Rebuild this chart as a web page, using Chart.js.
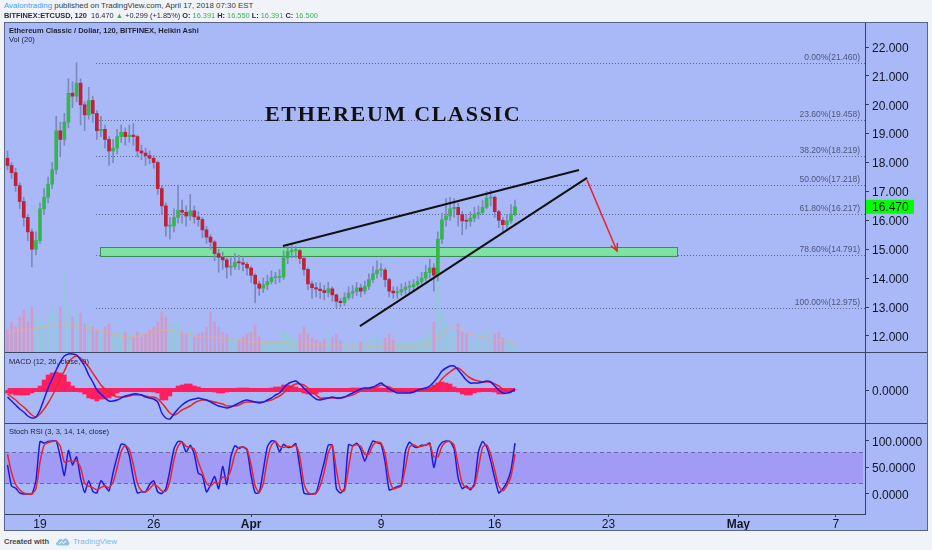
<!DOCTYPE html>
<html><head><meta charset="utf-8">
<script src="https://cdn.jsdelivr.net/npm/chart.js@4.4.1/dist/chart.umd.min.js"></script>
<style>
html,body{margin:0;padding:0}
body{width:932px;height:550px;background:#f0f3f8;position:relative;overflow:hidden;font-family:"Liberation Sans",Arial,sans-serif;color:#2a2e39}
.t{position:absolute;white-space:nowrap;line-height:1;z-index:5}
#frame{position:absolute;left:4px;top:22px;width:922px;height:507px;background:#a9b9f8;border:1px solid #56658a}
#frame canvas{position:absolute;left:0}
.sep{position:absolute;left:0;width:922px;height:1px;background:#3c4665;z-index:3}
.g{color:#39b54a;font-weight:normal}
</style></head><body>
<div class="t" style="left:4px;top:2px;font-size:7.9px;color:#3a3a3a"><span style="color:#4a9fe8">Avalontrading</span> published on TradingView.com, April 17, 2018 07:30 EST</div>
<div class="t" style="left:4px;top:11.5px;font-size:7.4px;font-weight:bold;color:#2a2e39">BITFINEX:ETCUSD, 120&nbsp; <span style="font-weight:normal">16.470 <span class="g">▲</span> +0.299 (+1.85%)</span> O: <span class="g">16.391</span> H: <span class="g">16.550</span> L: <span class="g">16.391</span> C: <span class="g">16.500</span></div>

<div id="frame">
  <canvas id="cMain" width="922" height="329" style="top:0"></canvas>
  <canvas id="cMacd" width="922" height="71" style="top:329px"></canvas>
  <canvas id="cStoch" width="922" height="107" style="top:400px"></canvas>
  <div class="sep" style="top:329px"></div>
  <div class="sep" style="top:400px"></div>
</div>

<div class="t" style="left:9px;top:27.3px;font-size:7.5px;font-weight:bold;color:#1e2230">Ethereum Classic / Dollar, 120, BITFINEX, Heikin Ashi</div>
<div class="t" style="left:9px;top:36.3px;font-size:7.5px;color:#1e2230">Vol (20)</div>
<div class="t" style="left:9px;top:357.8px;font-size:7.5px;color:#1e2230">MACD (12, 26, close, 9)</div>
<div class="t" style="left:9px;top:428.3px;font-size:7.5px;color:#1e2230">Stoch RSI (3, 3, 14, 14, close)</div>
<div class="t" style="left:265px;top:103px;font-size:22px;line-height:22px;letter-spacing:1.7px;font-family:'Liberation Serif','Times New Roman',serif;font-weight:bold;color:#111">ETHEREUM CLASSIC</div>

<div class="t" style="left:4px;top:537.5px;font-size:7.5px;font-weight:bold;color:#4a4a4a">Created with</div>
<svg style="position:absolute;left:55px;top:537px" width="15" height="9" viewBox="0 0 15 9"><path d="M3 8.5 C0.5 8.5 0.3 5 2.8 4.8 C3 2 6.5 1.2 7.8 3.2 C9 0.5 13 1 13 4.2 C15 4.6 14.8 8.5 12.3 8.5 Z" fill="#8cc4ec"/><path d="M4 7 L6.5 4.8 L8.5 6.3 L11 4" stroke="#fff" stroke-width="1" fill="none"/></svg>
<div class="t" style="left:73px;top:537.5px;font-size:8px;color:#7ab8e8">TradingView</div>

<script>
// ---------- data (2-hour Heikin Ashi chart, read at 6-hour steps) ----------
const firstDay = -2;          // days relative to Mar 19, first candle
const dayStep = 0.25;         // 6 hours per candle
const firstOpen = 18.15;
const closes = [
17.9,17.65,17.2,16.65,16.1,15.6,15.0,15.3,16.4,16.8,
17.25,17.75,19.1,18.8,19.4,20.4,20.3,20.75,20.0,19.65,
20.15,19.7,19.1,19.15,18.8,18.4,18.5,18.9,19.05,18.9,
18.95,18.9,18.4,18.33,18.24,18.15,18.0,17.1,16.5,15.8,
15.8,16.1,16.35,16.28,16.15,16.33,16.12,16.03,15.67,15.42,
15.25,14.85,14.72,14.63,14.38,14.4,14.55,14.53,14.48,14.35,
14.1,13.8,13.65,13.77,13.88,14.02,14.02,14.04,14.7,14.92,
14.95,14.95,14.68,14.3,13.8,13.67,13.62,13.57,13.5,13.63,
13.42,13.2,13.15,13.33,13.48,13.54,13.66,13.55,13.72,13.95,
14.15,14.28,14.28,13.95,13.55,13.49,13.52,13.6,13.69,13.7,
13.78,13.88,14.0,14.2,14.35,14.1,15.35,16.02,16.15,16.4,
16.45,16.2,15.98,15.97,16.08,16.22,16.27,16.45,16.77,16.8,
16.3,16.0,15.85,15.98,16.22,16.47];
const highs = [
18.4,18.0,17.8,17.3,16.8,16.2,15.7,15.6,16.6,17.1,
17.5,18.0,19.6,19.4,19.7,20.9,20.8,21.46,20.9,20.1,
20.6,20.3,19.8,19.6,19.3,18.9,18.8,19.15,19.3,19.2,
19.3,19.35,18.95,18.6,18.5,18.4,18.25,18.05,17.2,16.6,
16.1,16.4,17.22,16.7,16.5,16.9,16.5,16.3,16.1,15.8,
15.5,15.3,15.0,14.9,14.7,14.7,14.85,14.8,14.7,14.55,
14.4,14.15,13.9,14.0,14.1,14.25,14.2,14.3,14.95,15.15,
15.15,15.1,15.0,14.75,14.35,13.9,13.85,13.85,13.75,13.85,
13.7,13.45,13.3,13.5,13.7,13.75,13.85,13.8,13.9,14.15,
14.4,14.6,14.5,14.35,14.0,13.7,13.7,13.8,13.85,13.9,
13.95,14.05,14.2,14.45,14.65,14.5,15.6,16.25,16.75,16.8,
16.75,16.6,16.3,16.2,16.3,16.45,16.5,16.7,17.0,17.05,
16.85,16.35,16.1,16.2,16.55,16.7];
const lows = [
17.75,17.45,17.0,16.4,15.8,15.3,14.39,14.8,15.2,16.2,
16.6,17.1,17.6,18.2,18.6,19.2,19.9,20.1,19.3,19.1,
19.5,19.4,18.8,18.9,18.5,17.9,18.0,18.3,18.7,18.6,
18.7,18.6,18.2,18.1,17.9,17.95,17.8,16.9,16.2,15.45,
15.35,15.6,15.9,15.9,15.8,16.0,15.9,15.8,15.4,15.2,
15.0,14.6,14.2,14.3,14.0,14.1,14.3,14.3,14.25,14.1,
13.85,13.14,13.4,13.5,13.6,13.8,13.8,13.85,13.95,14.5,
14.7,14.7,14.5,14.1,13.6,13.3,13.35,13.3,13.25,13.35,
13.2,12.98,13.0,13.05,13.25,13.3,13.4,13.35,13.45,13.6,
13.85,14.0,14.05,13.7,13.35,13.3,13.3,13.4,13.45,13.5,
13.55,13.65,13.75,13.9,14.0,13.55,13.9,15.2,15.8,16.0,
16.1,15.8,15.5,15.7,15.8,15.95,16.05,16.2,16.4,16.5,
16.1,15.75,15.6,15.7,15.9,16.15];
const volumes = [
22,30,25,35,42,30,45,38,33,28,
35,47,40,45,82,50,35,40,39,28,
30,25,22,20,25,28,20,18,22,20,
18,15,20,15,18,22,25,30,40,35,
28,25,30,20,18,22,15,18,20,25,
40,30,25,20,18,15,14,12,15,18,
20,27,15,12,10,12,10,12,22,18,
15,12,18,25,18,14,12,10,12,20,
15,18,12,10,8,10,9,10,12,14,
15,18,12,14,18,12,10,9,10,9,
10,12,14,15,18,30,107,39,30,25,
22,28,20,18,15,14,18,20,23,20,
18,20,14,12,10,8];
const volumeMA = [
20,20,21,21,22,22,23,23,24,25,
26,27,28,28,28,28,27,26,25,24,
23,23,22,21,20,19,18,17,16,15,
15,15,16,17,18,19,20,21,22,22,
22,21,20,19,18,17,16,15,15,15,
15,15,14,14,13,13,12,12,11,11,
10,10,10,10,9,9,9,9,9,9,
8,8,8,8,8,8,8,7,7,7,
7,7,7,6,6,6,6,6,6,6,
6,6,6,6,6,6,6,6,6,6,
6,6,7,7,8,12,15,18,21,24,
25,24,22,20,18,17,16,15,14,13,
12,12,11,11,10,10];
const macdLine = [
-7,-11,-15,-19,-22,-26,-28,-27,-20,-9,
2,11,20,28,34,36,36,35,30,24,
15,8,0,-4,-8,-11,-11,-10,-8,-6,
-5,-4,-4,-5,-7,-8,-9,-12,-23,-28,
-29,-24,-19,-15,-12,-10,-9,-8,-9,-10,
-12,-14,-16,-17,-18,-17,-15,-13,-11,-10,
-11,-12,-13,-12,-10,-8,-5,-3,2,6,
8,9,6,2,-2,-6,-9,-10,-9,-8,
-7,-8,-8,-7,-5,-3,-1,1,2,2,
3,5,7,4,1,-1,-3,-3,-3,-3,
-2,0,1,2,4,8,13,19,22,24,
24,20,15,10,7,7,7,8,9,8,
4,0,-3,-3,-2,1];
const signalLine = [
-4,-7,-10,-14,-17,-21,-25,-27,-24,-19,
-13,-6,2,11,19,28,32,34,32,28,
23,17,11,5,1,-3,-5,-7,-7,-7,
-6,-5,-5,-5,-6,-7,-7,-9,-13,-18,
-23,-25,-23,-20,-18,-16,-13,-11,-10,-10,
-11,-12,-13,-14,-16,-16,-16,-15,-13,-12,
-12,-12,-12,-12,-11,-10,-8,-6,-3,1,
4,6,6,5,2,-2,-5,-8,-8,-8,
-8,-8,-8,-7,-6,-5,-3,-1,0,1,
2,3,5,4,3,1,-1,-1,-2,-2,
-2,-1,0,0,1,3,6,11,15,18,
21,22,19,15,12,10,9,8,8,8,
6,4,1,-1,-1,1];
const stochK = [
55,15,11,2,0,0,0,25,99,96,
99,100,100,70,35,82,55,70,30,3,
25,5,2,25,15,6,40,70,94,92,
72,30,2,4,4,18,25,4,1,10,
45,85,99,98,79,92,75,39,35,4,
17,33,10,52,18,70,91,86,89,83,
35,2,3,45,89,100,99,80,94,88,
89,95,50,2,0,0,2,30,60,92,
92,10,2,10,93,91,96,84,62,83,
100,97,94,60,8,10,14,17,80,98,
90,88,92,92,96,50,85,97,100,99,
85,30,10,15,8,20,80,99,89,63,
30,2,10,22,45,96];
const stochD = [
75,40,18,8,2,0,0,10,60,92,
97,99,100,90,60,62,62,62,50,20,
15,12,8,12,15,12,22,50,80,92,
84,55,20,6,4,10,18,14,6,5,
25,65,90,98,90,88,85,60,40,20,
15,22,20,32,30,45,75,88,88,85,
55,15,3,20,65,92,99,90,88,90,
89,92,70,20,3,0,1,15,42,78,
92,45,8,6,50,90,93,90,75,75,
92,98,96,75,30,10,12,15,50,88,
93,89,90,92,94,70,70,90,98,99,
92,55,20,12,11,15,50,88,93,75,
45,15,6,16,33,75];

const priceTicks = [12,13,14,15,16,17,18,19,20,21,22];
const macdTicks = [0];
const stochTicks = [0,50,100];
const dateTickDays = [0,7,13,21,28,35,43,49];
const dateTickLabels = ['19','26','Apr','9','16','23','May','7'];
const monthLabels = ['Apr','May'];
const fibLevels = [21.46,19.458,18.219,17.218,16.217,14.791,12.975];
const fibNames = ['0.00%','23.60%','38.20%','50.00%','61.80%','78.60%','100.00%'];
const fibStartDay = 3.45;
const zone = {fromDay:3.69, toDay:39.22, low:14.77, high:15.08};
const upperTrend = [{x:14.96,y:15.11},{x:33.19,y:17.74}];
const lowerTrend = [{x:19.70,y:12.34},{x:33.68,y:17.47}];
const arrowLine = [{x:33.68,y:17.40},{x:35.53,y:14.94}];
const lastPrice = 16.470;
const viewDays = {min:-2.155, max:50.80};
const priceRange = {min:11.443, max:22.831};
const macdRange = {min:-33, max:38};
const stochRange = {min:-37.74, max:133.96};
const stochBand = {low:20, high:80};

// ---------- derived ----------
const days = closes.map((_, i) => firstDay + i * dayStep);
const opens = closes.map((c, i) => i === 0 ? firstOpen : closes[i - 1]);
const isUp = closes.map((c, i) => c >= opens[i]);
const histogram = macdLine.map((m, i) => m - signalLine[i]);

const AXIS = '#34405e', TXT = '#131722';
Chart.defaults.font.family = '"Liberation Sans", Arial, sans-serif';
Chart.defaults.color = TXT;

function yAxis(range, ticks, fmt) {
  return {
    position: 'right', min: range.min, max: range.max,
    afterBuildTicks: s => { s.ticks = ticks.map(v => ({value: v})); },
    afterFit: s => { s.width = 62; s.paddingTop = 0; s.paddingBottom = 0; },
    ticks: {callback: v => fmt(v), padding: 3, labelOffset: 1.5, font: {size: 12}, color: TXT},
    grid: {drawOnChartArea: false, drawTicks: true, tickLength: 4, color: AXIS},
    border: {display: true, color: AXIS}
  };
}
const hiddenX = {type: 'linear', display: false, min: viewDays.min, max: viewDays.max, offset: false, grid: {offset: false}};
const common = {
  responsive: false, animation: false, events: [],
  layout: {padding: 0, autoPadding: false},
  datasets: {bar: {grouped: false, borderWidth: 0}},
  plugins: {legend: {display: false}, tooltip: {enabled: false}}
};

const fibPlugin = {
  id: 'fib',
  beforeDatasetsDraw(chart) {
    const {ctx, chartArea: a, scales: {x, y}} = chart;
    ctx.save();
    ctx.strokeStyle = 'rgba(80,88,125,0.85)'; ctx.lineWidth = 1; ctx.setLineDash([1, 2]);
    ctx.fillStyle = '#4f5779'; ctx.font = '8.5px "Liberation Sans", Arial';
    ctx.textAlign = 'right'; ctx.textBaseline = 'bottom';
    fibLevels.forEach((v, i) => {
      const py = Math.round(y.getPixelForValue(v)) + 0.5;
      ctx.beginPath(); ctx.moveTo(x.getPixelForValue(fibStartDay), py); ctx.lineTo(a.right, py); ctx.stroke();
      ctx.fillText(fibNames[i] + '(' + v.toFixed(3) + ')', a.right - 5, py - 1.5);
    });
    ctx.setLineDash([]);
    const x0 = x.getPixelForValue(zone.fromDay), x1 = x.getPixelForValue(zone.toDay);
    const y0 = y.getPixelForValue(zone.high), y1 = y.getPixelForValue(zone.low);
    ctx.fillStyle = '#7fe2a3'; ctx.fillRect(x0, y0, x1 - x0, y1 - y0);
    ctx.strokeStyle = '#3d8a5e'; ctx.strokeRect(Math.round(x0) + 0.5, Math.round(y0) + 0.5, Math.round(x1 - x0), Math.round(y1 - y0));
    ctx.restore();
  },
  afterDatasetsDraw(chart) {
    const {ctx, scales: {x, y}} = chart;
    const p0 = {x: x.getPixelForValue(arrowLine[0].x), y: y.getPixelForValue(arrowLine[0].y)};
    const p1 = {x: x.getPixelForValue(arrowLine[1].x), y: y.getPixelForValue(arrowLine[1].y)};
    const ang = Math.atan2(p1.y - p0.y, p1.x - p0.x);
    ctx.save(); ctx.strokeStyle = '#e3262e'; ctx.lineWidth = 1.5;
    ctx.beginPath();
    ctx.moveTo(p1.x - 8 * Math.cos(ang - 0.45), p1.y - 8 * Math.sin(ang - 0.45));
    ctx.lineTo(p1.x, p1.y);
    ctx.lineTo(p1.x - 8 * Math.cos(ang + 0.45), p1.y - 8 * Math.sin(ang + 0.45));
    ctx.stroke(); ctx.restore();
  },
  afterDraw(chart) {
    const {ctx, chartArea: a, scales: {y}} = chart;
    const py = y.getPixelForValue(lastPrice);
    ctx.save();
    ctx.fillStyle = '#00ff00'; ctx.fillRect(a.right + 1, py - 7, 48, 14);
    ctx.fillStyle = TXT; ctx.font = '12px "Liberation Sans", Arial'; ctx.textBaseline = 'middle';
    ctx.fillText(lastPrice.toFixed(3), a.right + 7, py + 1);
    ctx.restore();
  }
};

new Chart(document.getElementById('cMain'), {
  type: 'bar',
  data: {datasets: [
    {type: 'line', data: upperTrend, borderColor: '#111', borderWidth: 2, pointRadius: 0, order: 1},
    {type: 'line', data: lowerTrend, borderColor: '#111', borderWidth: 2, pointRadius: 0, order: 1},
    {type: 'line', data: arrowLine, borderColor: '#e3262e', borderWidth: 1.5, pointRadius: 0, order: 1},
    {data: days.map((d, i) => ({x: d, y: [opens[i], closes[i]]})), backgroundColor: isUp.map(u => u ? '#35b54b' : '#bd2238'), barThickness: 3, minBarLength: 1, order: 3},
    {data: days.map((d, i) => ({x: d, y: [lows[i], highs[i]]})), backgroundColor: '#7d89bd', barThickness: 1, order: 4},
    {type: 'line', data: days.map((d, i) => ({x: d, y: volumeMA[i]})), yAxisID: 'yv', borderColor: 'rgba(245,170,120,0.7)', borderWidth: 1, pointRadius: 0, tension: 0.3, order: 5},
    {data: days.map((d, i) => ({x: d, y: volumes[i]})), yAxisID: 'yv', backgroundColor: isUp.map(u => u ? 'rgba(125,215,190,0.5)' : 'rgba(240,130,155,0.5)'), barThickness: 2, order: 6}
  ]},
  options: Object.assign({}, common, {
    scales: {
      x: hiddenX,
      y: yAxis(priceRange, priceTicks, v => v.toFixed(3)),
      yv: {display: false, min: 0, max: 329}
    }
  }),
  plugins: [fibPlugin]
});

const macdPlugin = {
  id: 'macdZero',
  beforeDatasetsDraw(chart) {
    const {ctx, scales: {x, y}} = chart;
    const py = y.getPixelForValue(0);
    ctx.save(); ctx.fillStyle = '#ff1f5f';
    const x0 = x.getPixelForValue(days[0]), x1 = x.getPixelForValue(days[days.length - 1]);
    ctx.fillRect(x0, py - 2, x1 - x0, 4); ctx.restore();
  }
};
new Chart(document.getElementById('cMacd'), {
  type: 'bar',
  data: {datasets: [
    {type: 'line', data: days.map((d, i) => ({x: d, y: macdLine[i]})), borderColor: '#1a1ae6', borderWidth: 1.5, pointRadius: 0, tension: 0.25, order: 1},
    {type: 'line', data: days.map((d, i) => ({x: d, y: signalLine[i]})), borderColor: '#ec2424', borderWidth: 1.5, pointRadius: 0, tension: 0.25, order: 2},
    {data: days.map((d, i) => ({x: d, y: histogram[i]})), backgroundColor: '#ff1f5f', barThickness: 4, order: 3}
  ]},
  options: Object.assign({}, common, {
    scales: {x: hiddenX, y: yAxis(macdRange, macdTicks, v => v.toFixed(4))}
  }),
  plugins: [macdPlugin]
});

const stochPlugin = {
  id: 'stochBand',
  beforeDatasetsDraw(chart) {
    const {ctx, chartArea: a, scales: {y}} = chart;
    const yh = Math.round(y.getPixelForValue(stochBand.high)) + 0.5, yl = Math.round(y.getPixelForValue(stochBand.low)) + 0.5;
    ctx.save();
    ctx.fillStyle = '#a29bf6'; ctx.fillRect(a.left, yh, a.right - a.left - 2, yl - yh);
    ctx.strokeStyle = '#6c6aa6'; ctx.lineWidth = 1; ctx.setLineDash([4, 3]);
    [yh, yl].forEach(py => { ctx.beginPath(); ctx.moveTo(a.left, py); ctx.lineTo(a.right - 2, py); ctx.stroke(); });
    ctx.restore();
  }
};
new Chart(document.getElementById('cStoch'), {
  type: 'line',
  data: {datasets: [
    {data: days.map((d, i) => ({x: d, y: stochD[i]})), borderColor: '#ec2424', borderWidth: 1.5, pointRadius: 0, tension: 0.2},
    {data: days.map((d, i) => ({x: d, y: stochK[i]})), borderColor: '#1a1ae6', borderWidth: 1.5, pointRadius: 0, tension: 0.2}
  ]},
  options: Object.assign({}, common, {
    scales: {
      x: {
        type: 'linear', min: viewDays.min, max: viewDays.max, offset: false,
        afterBuildTicks: s => { s.ticks = dateTickDays.map(v => ({value: v})); },
        afterFit: s => { s.height = 16; s.paddingLeft = 0; s.paddingRight = 0; },
        ticks: {
          callback: (v, i) => dateTickLabels[i], autoSkip: false, maxRotation: 0, padding: 0, color: TXT,
          font: c => ({size: 12, weight: monthLabels.includes(dateTickLabels[c.index]) ? 'bold' : 'normal'})
        },
        grid: {drawOnChartArea: false, tickLength: 3, color: AXIS},
        border: {display: true, color: AXIS}
      },
      y: yAxis(stochRange, stochTicks, v => v.toFixed(4))
    }
  }),
  plugins: [stochPlugin]
});
</script>
</body></html>
